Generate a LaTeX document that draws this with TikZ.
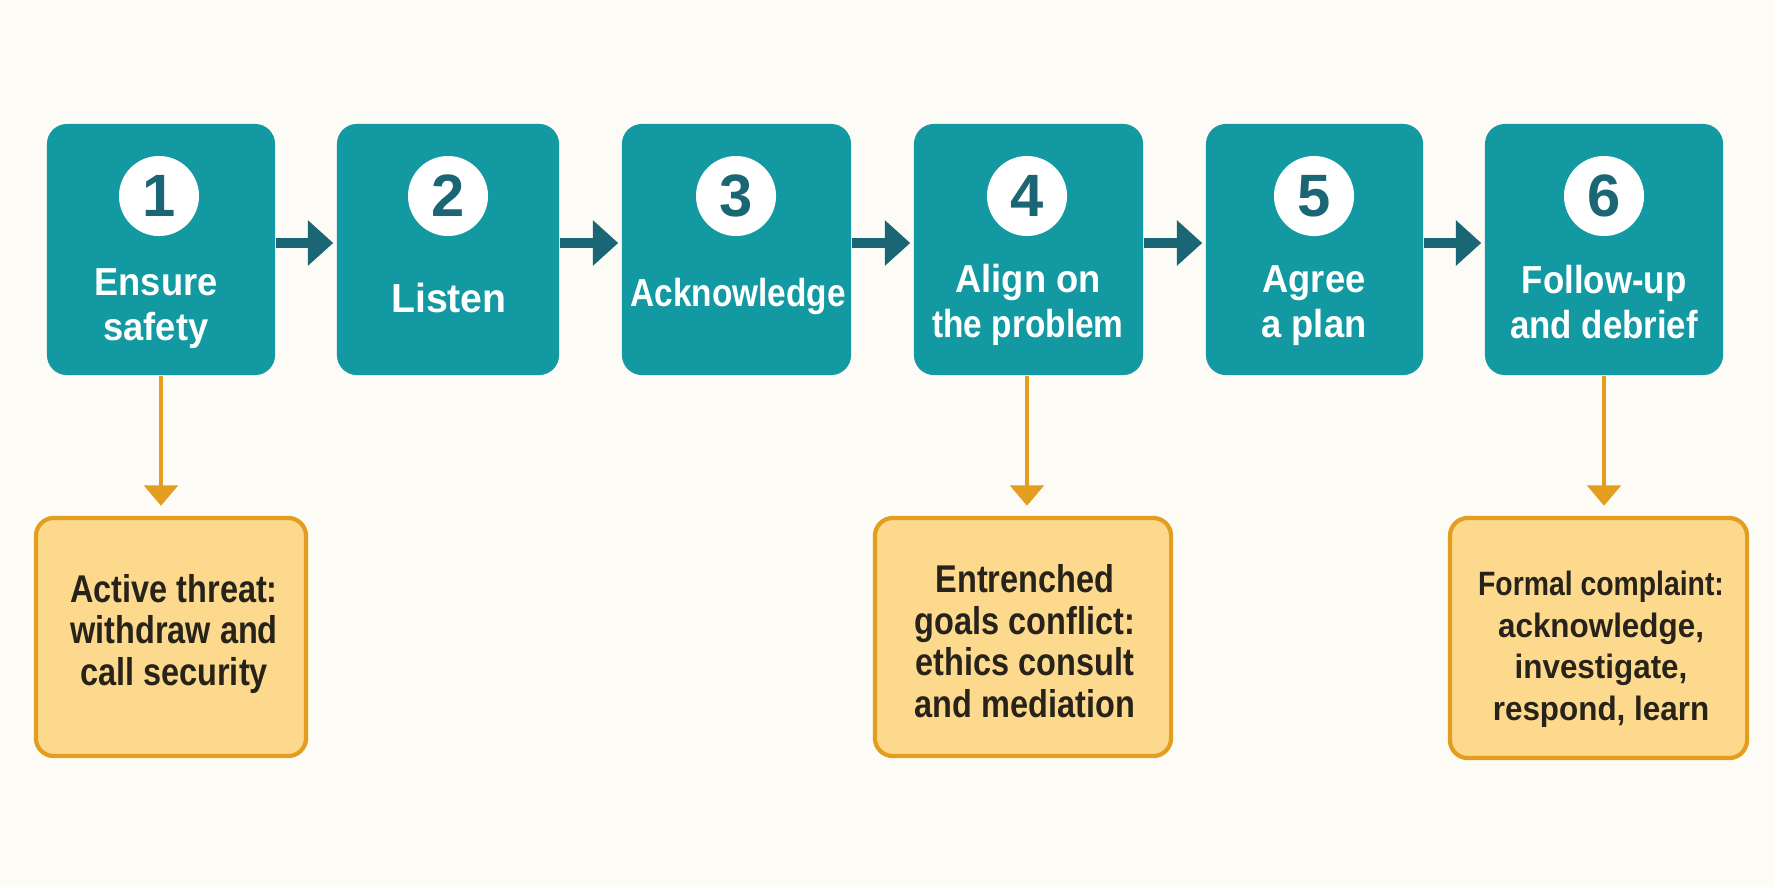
\documentclass[tikz,border=0pt]{standalone}
\usepackage{fontspec}
\setmainfont{Liberation Sans}[FakeStretch=0.84]
\newfontfamily\stepfont{Liberation Sans}[FakeStretch=0.93]
\newfontfamily\numfont{Liberation Sans}
\usetikzlibrary{arrows.meta}
\definecolor{bgc}{HTML}{FDFBF6}
\definecolor{tealc}{HTML}{1399A1}
\definecolor{darkteal}{HTML}{1B6675}
\definecolor{ofill}{HTML}{FCD98D}
\definecolor{oedge}{HTML}{E39E1F}
\definecolor{otext}{HTML}{27231A}
\tikzset{
  stepbox/.style={draw=none, fill=tealc, rounded corners=0.2cm, minimum height=2.51cm, inner sep=0},
  numcirc/.style={circle, fill=white, minimum size=0.8cm, inner sep=0, text=darkteal, font=\numfont\bfseries\fontsize{17}{17}\selectfont},
  steptext/.style={text=white, align=center, anchor=base, inner sep=0, font=\stepfont\bfseries\fontsize{11.1}{12.6}\selectfont},
  notebox/.style={draw=oedge, line width=1.2pt, fill=ofill, rounded corners=0.18cm, inner sep=0},
  notetext/.style={text=otext, align=center, anchor=base, inner sep=0, font=\bfseries\fontsize{11}{11.8}\selectfont},
  flowarrow/.style={draw=darkteal, line width=3.1pt, -{Triangle[length=7.2pt,width=12.5pt]}},
  notearrow/.style={draw=oedge, line width=1.4pt, -{Triangle[length=5.8pt,width=9.4pt]}, shorten >=0.1cm},
}
\begin{document}
\begin{tikzpicture}[x=0.01cm,y=-0.01cm]
\fill[bgc] (0,0) rectangle (1774,887);
\useasboundingbox (0,0) rectangle (1774,887);
% step boxes
\node[stepbox, minimum width=2.28cm] (b1) at (161,249.5) {};
\node[stepbox, minimum width=2.22cm] (b2) at (448,249.5) {};
\node[stepbox, minimum width=2.29cm] (b3) at (736.5,249.5) {};
\node[stepbox, minimum width=2.29cm] (b4) at (1028.5,249.5) {};
\node[stepbox, minimum width=2.17cm] (b5) at (1314.5,249.5) {};
\node[stepbox, minimum width=2.38cm] (b6) at (1604,249.5) {};
% numbers
\node[numcirc] (c1) at (159,196) {1};
\node[numcirc] (c2) at (448,196) {2};
\node[numcirc] (c3) at (736,196) {3};
\node[numcirc] (c4) at (1027,196) {4};
\node[numcirc] (c5) at (1314,196) {5};
\node[numcirc] (c6) at (1604,196) {6};
% labels (anchor = baseline of last line)
\node[steptext] (t1) at (156,340) {Ensure\\safety};
\node[steptext] (t2) at (449,312) {\scalebox{1.08}[1.04]{Listen}};
\node[steptext] (t3) at (738,306) {\scalebox{0.92}[1]{Acknowledge}};
\node[steptext] (t4) at (1028,337) {Align on\\\scalebox{0.92}[1]{the problem}};
\node[steptext] (t5) at (1314,337) {Agree\\a plan};
\node[steptext] (t6) at (1604,338) {\scalebox{0.96}[1]{Follow-up}\\\scalebox{0.96}[1]{and debrief}};
% flow arrows
\foreach \a/\b in {b1/b2,b2/b3,b3/b4,b4/b5,b5/b6}
  \draw[flowarrow] ([yshift=0.065cm]\a.east) -- ([yshift=0.065cm,xshift=-0.03cm]\b.west);
% note boxes
\node[notebox, minimum width=2.70cm, minimum height=2.38cm] (o1) at (171,637) {};
\node[notebox, minimum width=2.96cm, minimum height=2.38cm] (o4) at (1023,637) {};
\node[notebox, minimum width=2.97cm, minimum height=2.40cm] (o6) at (1598.5,638) {};
\node[notetext] (n1) at (174,685) {Active threat:\\withdraw and\\call security};
\node[notetext] (n4) at (1025,717) {Entrenched\\goals conflict:\\ethics consult\\and mediation};
\node[notetext, font=\bfseries\fontsize{9.6}{11.8}\selectfont] (n6) at (1601,720) {Formal complaint:\\{\stepfont acknowledge,}\\{\stepfont investigate,}\\{\stepfont respond, learn}};
% note arrows
\draw[notearrow] (b1.south) -- (b1.south |- o1.north);
\draw[notearrow] ([xshift=-0.015cm]b4.south) -- ([xshift=-0.015cm]b4.south |- o4.north);
\draw[notearrow] (b6.south) -- (b6.south |- o6.north);
\end{tikzpicture}
\end{document}
